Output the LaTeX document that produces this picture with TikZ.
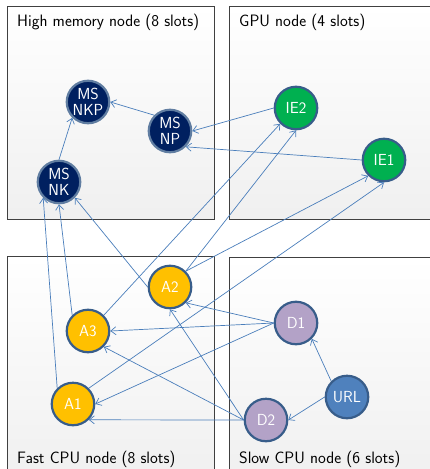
\documentclass[tikz,border=0pt]{standalone}
\usetikzlibrary{arrows.meta}
\definecolor{msfill}{HTML}{002060}
\definecolor{iefill}{HTML}{00B050}
\definecolor{afill}{HTML}{FFC000}
\definecolor{dfill}{HTML}{B3A2C7}
\definecolor{urlfill}{HTML}{4F81BD}
\definecolor{ringcol}{HTML}{385D8A}
\definecolor{linkcol}{HTML}{4A7EBB}
\begin{document}
\begin{tikzpicture}[x=1pt,y=-1pt,
  box/.style={draw=black!75, line width=0.8pt, top color=white, bottom color=black!6},
  boxlabel/.style={anchor=base west, inner sep=0pt, font=\sffamily\fontsize{16.5}{19}\selectfont, text=black},
  job/.style={circle, draw=ringcol, line width=2.2pt, minimum size=42.5pt, inner sep=0pt,
    align=center, text=white, font=\sffamily\fontsize{16}{16.5}\selectfont},
  ms/.style={job, fill=msfill, draw=ringcol!80!white},
  ie/.style={job, fill=iefill},
  aa/.style={job, fill=afill},
  dd/.style={job, fill=dfill},
  url/.style={job, fill=urlfill},
  link/.style={draw=linkcol, line width=0.7pt, -{Straight Barb[length=5pt,width=8pt]}}]
\useasboundingbox (0,0) rectangle (430,469);
\clip (0,0) rectangle (430,469);

% machine boxes
\path[box] (7,6) rectangle (214,219);
\path[box] (229,6) rectangle (440,219);
\path[box] (7,256) rectangle (214,480);
\path[box] (229,257) rectangle (440,480);

\node[boxlabel] (lhm) at (17,26) {High memory node (8 slots)};
\node[boxlabel] (lgpu) at (239,26) {GPU node (4 slots)};
\node[boxlabel] (lfast) at (17,463) {Fast CPU node (8 slots)};
\node[boxlabel] (lslow) at (239,463) {Slow CPU node (6 slots)};

% jobs
\node[ms] (nkp) at (88,102) {MS\\NKP};
\node[ms] (np) at (170,131) {MS\\NP};
\node[ms] (nk) at (59,182) {MS\\NK};
\node[ie] (ie2) at (296,108) {IE2};
\node[ie] (ie1) at (384,160) {IE1};
\node[aa] (a2) at (170,287) {A2};
\node[aa] (a3) at (88,331) {A3};
\node[aa] (a1) at (73,404) {A1};
\node[dd] (d1) at (296,323) {D1};
\node[dd] (d2) at (266,420) {D2};
\node[url] (url) at (347,397) {URL};

% dependencies
\draw[link] (url.north west) -- (d1.south east);
\draw[link] (url.west) -- (d2.east);

\draw[link] (d1.west) -- (a2.south east);
\draw[link] (d1.west) -- (a3.east);
\draw[link] (d1.west) -- (a1.east);
\draw[link] (d2.west) -- (a2.south);
\draw[link] (d2.west) -- (a3.south east);
\draw[link] (d2.west) -- (a1.south east);

\draw[link] (a1.north west) -- (nk.south west);
\draw[link] (a3.north west) -- (nk.south);
\draw[link] (a2.west) -- (nk.south east);

\draw[link] (a3.north east) -- (ie2.south west);
\draw[link] (a2.north east) -- (ie2.south);
\draw[link] (a2.north east) -- (ie1.south west);
\draw[link] (a1.north east) -- (ie1.south);

\draw[link] (ie2.west) -- (np.east);
\draw[link] (ie1.west) -- (np.south east);

\draw[link] (np.north west) -- (nkp.east);
\draw[link] (nk.north) -- (nkp.south west);
\end{tikzpicture}
\end{document}
